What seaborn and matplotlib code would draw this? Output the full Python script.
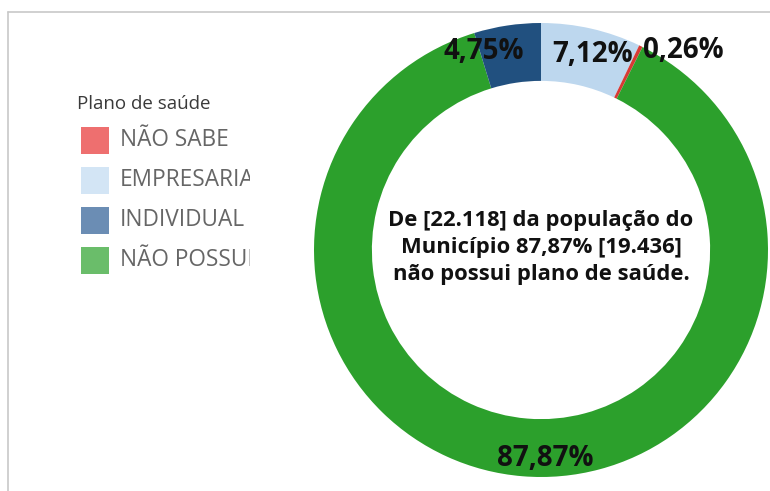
import numpy as np
import matplotlib
matplotlib.use("Agg")
from matplotlib import pyplot as plt
from matplotlib.patches import Rectangle
from matplotlib.transforms import Bbox
import seaborn as sns

# dados do gráfico (sentido horário a partir do topo)
categorias = ["EMPRESARIAL", "NÃO SABE", "NÃO POSSUI", "INDIVIDUAL"]
valores = [7.12, 0.26, 87.87, 4.75]
rotulos = ["7,12%", "0,26%", "87,87%", "4,75%"]

legenda_ordem = ["NÃO SABE", "EMPRESARIAL", "INDIVIDUAL", "NÃO POSSUI"]
titulo_legenda = "Plano de saúde"
texto_centro = ["De [22.118] da população do",
                "Município 87,87% [19.436]",
                "não possui plano de saúde."]

cores = {"EMPRESARIAL": "#bdd7ee", "NÃO SABE": "#d83a35",
         "NÃO POSSUI": "#2ca02c", "INDIVIDUAL": "#21507f"}
cores_legenda = {"NÃO SABE": "#ee6f6f", "EMPRESARIAL": "#d3e5f5",
                 "INDIVIDUAL": "#6b8db4", "NÃO POSSUI": "#6abd6a"}

sns.set_style("white")
plt.rcParams["font.family"] = ["Open Sans", "DejaVu Sans"]

fig = plt.figure(figsize=(7.7, 4.91), dpi=100)

# moldura (só topo e esquerda)
fig.add_artist(plt.Line2D([8 / 770, 1], [1 - 12 / 491] * 2, color="#c8c8c8", lw=1.2))
fig.add_artist(plt.Line2D([8 / 770] * 2, [0, 1 - 12 / 491], color="#c8c8c8", lw=1.2))

cx, cy, r = 541, 491 - 250, 227
ax = fig.add_axes([(cx - r) / 770, (cy - r) / 491, 2 * r / 770, 2 * r / 491])
wedges, _ = ax.pie(valores, colors=[cores[c] for c in categorias], startangle=90,
                   counterclock=False, radius=1,
                   wedgeprops=dict(width=0.255, linewidth=0))
ax.set_xlim(-1, 1)
ax.set_ylim(-1, 1)
ax.set_aspect("equal")
ax.axis("off")

# posição dos rótulos: raio e deslocamento angular por fatia
raios = [0.89, 1.08, 0.92, 0.91]
desloc = [-2, -9.3, 6.0, 7.6]
for w, txt, rr, dd in zip(wedges, rotulos, raios, desloc):
    ang = np.deg2rad((w.theta1 + w.theta2) / 2 + dd)
    ax.text(rr * np.cos(ang), rr * np.sin(ang), txt, ha="center", va="center",
            fontsize=20, fontweight="bold", color="#111111")

for i, linha in enumerate(texto_centro):
    ax.text(0, 0.13 - i * 0.119, linha, ha="center", va="center",
            fontsize=15.8, fontweight="bold", color="#111111")

# legenda desenhada à mão (texto cortado como no original)
fig.text(77 / 770, 1 - 104 / 491, titulo_legenda, ha="left", va="center",
         fontsize=13.5, color="#3a3a3a")
clip = Bbox.from_extents(0, 0, 250, 491)
for i, cat in enumerate(legenda_ordem):
    yc = 140 + i * 40
    fig.add_artist(Rectangle((81 / 770, 1 - (yc + 13.5) / 491), 28 / 770, 27 / 491,
                             transform=fig.transFigure, color=cores_legenda[cat], lw=0))
    t = fig.text(120 / 770, 1 - yc / 491, cat, ha="left", va="center",
                 fontsize=16.3, color="#666666")
    t.set_clip_box(clip)
    t.set_clip_on(True)

fig.savefig("out.png", dpi=100)
